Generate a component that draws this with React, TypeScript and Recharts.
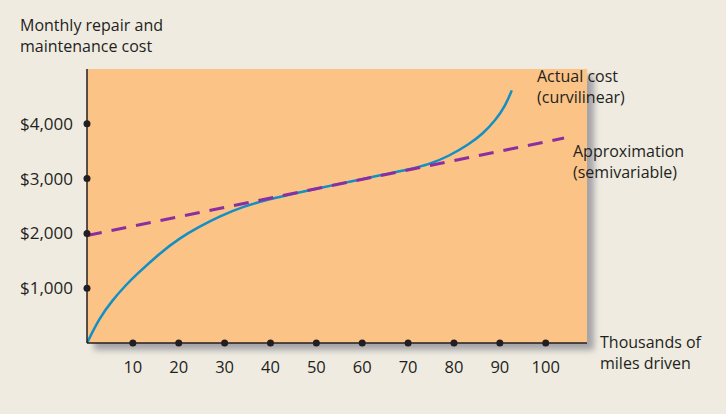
import { ComposedChart, Line, XAxis, YAxis, ReferenceArea } from 'recharts'

// actual cost curve (thousands of miles -> monthly cost)
const actualMiles = [0, 2.7, 5.6, 8.5, 10.7, 15.9, 20.2, 24.6, 28.9, 34, 40, 45, 50, 55, 60, 65, 70, 74.6, 78.9, 83.3, 86.2, 89.1, 91.2, 92.6]
const actualCost = [0, 455, 788, 1060, 1242, 1642, 1915, 2127, 2309, 2490, 2629, 2725, 2815, 2905, 2990, 3080, 3165, 3260, 3410, 3630, 3810, 4070, 4330, 4610]

// straight-line approximation
const approxMiles = [0, 104]
const approxCost = [1960, 3740]

const xTicks = [10, 20, 30, 40, 50, 60, 70, 80, 90, 100]
const yTicks = [1000, 2000, 3000, 4000]

const actualData = actualMiles.map((x, i) => ({ x, cost: actualCost[i] }))
const approxData = approxMiles.map((x, i) => ({ x, cost: approxCost[i] }))

const ink = '#231f20'
const font = '"Open Sans", sans-serif'

const XTick = ({ x, y, payload }: any) => (
  <g>
    <circle cx={x} cy={y} r={3.5} fill={ink} />
    <text x={x} y={y + 30} textAnchor="middle" fontSize={16.5} fontFamily={font} fill={ink}>
      {payload.value}
    </text>
  </g>
)

const YTick = ({ x, y, payload }: any) => (
  <g>
    <circle cx={x} cy={y} r={3.5} fill={ink} />
    <text x={x - 14} y={y + 6} textAnchor="end" fontSize={17} fontFamily={font} fill={ink}>
      {'$' + payload.value.toLocaleString('en-US')}
    </text>
  </g>
)

const notes = [
  { x: 20, y: 31, lines: ['Monthly repair and', 'maintenance cost'] },
  { x: 537, y: 82, lines: ['Actual cost', '(curvilinear)'] },
  { x: 573, y: 157, lines: ['Approximation', '(semivariable)'] },
  { x: 600, y: 348, lines: ['Thousands of', 'miles driven'] },
]

export default function App() {
  return (
    <div style={{ position: 'absolute', left: 0, top: 0, width: 726, height: 414, background: '#efebe1' }}>
      <ComposedChart width={726} height={414} margin={{ top: 69, right: 139, bottom: 0, left: 0 }}>
        <defs>
          <filter id="plotShadow" x="-5%" y="-5%" width="115%" height="120%">
            <feDropShadow dx={7} dy={7} stdDeviation={3} floodColor="#8a8a92" floodOpacity={0.75} />
          </filter>
        </defs>
        <ReferenceArea x1={0} x2={109} y1={0} y2={5000} fill="#fcc387" fillOpacity={1} stroke="none" filter="url(#plotShadow)" />
        <XAxis
          type="number"
          dataKey="x"
          domain={[0, 109]}
          ticks={xTicks}
          height={71}
          tickSize={0}
          tickMargin={0}
          tickLine={false}
          axisLine={{ stroke: ink, strokeWidth: 1.5 }}
          tick={<XTick />}
          allowDataOverflow
        />
        <YAxis
          type="number"
          domain={[0, 5000]}
          ticks={yTicks}
          width={87}
          tickSize={0}
          tickMargin={0}
          tickLine={false}
          axisLine={{ stroke: ink, strokeWidth: 1.5 }}
          tick={<YTick />}
          allowDataOverflow
        />
        <Line data={actualData} dataKey="cost" type="basis" stroke="#138fc3" strokeWidth={2.5} dot={false} isAnimationActive={false} />
        <Line data={approxData} dataKey="cost" type="linear" stroke="#8b2e9f" strokeWidth={3} strokeDasharray="15 10" dot={false} isAnimationActive={false} />
      </ComposedChart>
      <svg width={726} height={414} style={{ position: 'absolute', left: 0, top: 0, pointerEvents: 'none' }}>
        {notes.map((n) =>
          n.lines.map((t, i) => (
            <text key={t} x={n.x} y={n.y + i * 21} fontSize={16} fontFamily={font} fill={ink}>
              {t}
            </text>
          ))
        )}
      </svg>
    </div>
  )
}
